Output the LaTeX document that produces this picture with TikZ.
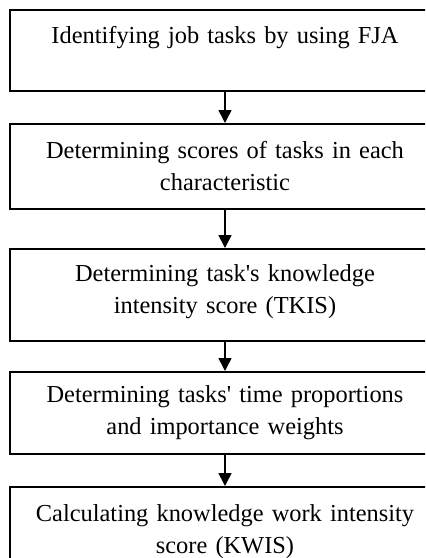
\documentclass[tikz,border=0pt]{standalone}
\usepackage{fontspec}
\setmainfont{Liberation Serif}
\usetikzlibrary{shapes,arrows.meta,positioning,calc}

\begin{document}
\begin{tikzpicture}[
  stepbox/.style={rectangle, draw, line width=1pt, minimum width=215pt, text width=205pt, align=center, inner sep=0pt, font=\fontsize{12.2}{16}\selectfont},
  flow/.style={-{Triangle[width=6.5pt,length=6.5pt]}, line width=0.8pt}
]
\clip (0,0) rectangle (212.5pt,-279pt);
\node[stepbox, minimum height=40.5pt] (ident) at (112.5pt,-25.25pt) {Identifying job tasks by using FJA\\ \mbox{}};
\node[stepbox, minimum height=42.5pt, below=15.5pt of ident] (scores) {Determining scores of tasks in each\\ characteristic};
\node[stepbox, minimum height=46pt, below=19pt of scores] (tkis) {Determining task\textquotesingle s knowledge\\ intensity score (TKIS)\\[-10pt] \mbox{}};
\node[stepbox, minimum height=41pt, below=14.5pt of tkis] (weights) {Determining tasks\textquotesingle\ time proportions\\ and importance weights};
\node[stepbox, minimum height=45pt, below=15.5pt of weights] (kwis) {Calculating knowledge work intensity\\ score (KWIS)};

\draw[flow] (ident) -- (scores);
\draw[flow] (scores) -- (tkis);
\draw[flow] (tkis) -- (weights);
\draw[flow] (weights) -- (kwis);
\end{tikzpicture}
\end{document}
